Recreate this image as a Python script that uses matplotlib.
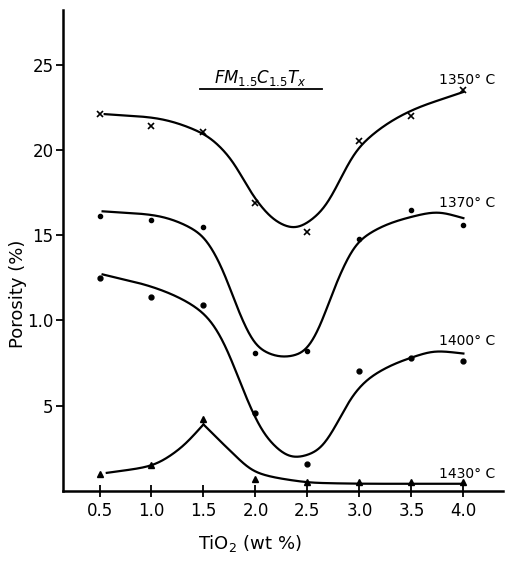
import numpy as np
import matplotlib
matplotlib.use("Agg")
import matplotlib.pyplot as plt

# measured points, TiO2 (wt %) vs porosity (%)
tio2 = np.array([0.5, 1.0, 1.5, 2.0, 2.5, 3.0, 3.5, 4.0])
p1350 = np.array([22.1, 21.4, 21.05, 16.9, 15.2, 20.5, 22.0, 23.5])
p1370 = np.array([16.1, 15.9, 15.5, 8.1, 8.2, 14.8, 16.5, 15.6])
p1400 = np.array([12.5, 11.35, 10.9, 4.6, 1.6, 7.05, 7.8, 7.6])
p1430 = np.array([1.0, 1.5, 4.2, 0.7, 0.5, 0.5, 0.5, 0.5])

# hand-drawn trend curves, knots
k1350_x = [0.55, 1.0, 1.5, 1.75, 2.0, 2.2, 2.37, 2.62, 3.0, 3.46, 4.0]
k1350_y = [22.1, 21.9, 20.95, 19.6, 17.1, 15.8, 15.4, 16.3, 20.2, 22.2, 23.4]
k1370_x = [0.53, 0.99, 1.47, 1.66, 1.86, 2.02, 2.27, 2.46, 2.62, 2.75, 3.0, 3.49, 3.75, 4.0]
k1370_y = [16.4, 16.2, 15.1, 13.35, 10.2, 8.4, 7.85, 8.1, 9.6, 11.8, 14.7, 16.06, 16.35, 16.0]
k1400_x = [0.53, 0.99, 1.31, 1.54, 1.69, 1.82, 1.95, 2.11, 2.37, 2.6, 2.79, 2.91, 3.1, 3.49, 3.75, 4.0]
k1400_y = [12.7, 12.0, 11.2, 10.2, 8.8, 6.9, 4.9, 3.1, 1.95, 2.35, 4.0, 5.4, 6.65, 7.8, 8.2, 8.06]
k1430a_x = [0.57, 0.99, 1.28, 1.5]
k1430a_y = [1.06, 1.47, 2.5, 3.9]
k1430b_x = [1.5, 1.75, 2.0, 2.27, 2.6, 3.2, 4.0]
k1430b_y = [3.9, 2.4, 1.1, 0.7, 0.47, 0.42, 0.42]

labels = ["1350° C", "1370° C", "1400° C", "1430° C"]
label_y = [24.1, 16.9, 8.8, 1.0]
xticks = [0.5, 1.0, 1.5, 2.0, 2.5, 3.0, 3.5, 4.0]
xticklabels = ["0.5", "1.0", "1.5", "2.0", "2.5", "3.0", "3.5", "4.0"]
yticks = [5, 10, 15, 20, 25]
yticklabels = ["5", "1.0", "15", "20", "25"]


def smooth(xk, yk, step=0.005, sigma=0.065):
    # pchip through the knots, then a light gaussian blur to hide the kinks
    xk = np.asarray(xk, float)
    yk = np.asarray(yk, float)
    h = np.diff(xk)
    d = np.diff(yk) / h
    m = np.zeros(len(xk))
    m[0], m[-1] = d[0], d[-1]
    for i in range(1, len(xk) - 1):
        if d[i - 1] * d[i] > 0:
            w1 = 2 * h[i] + h[i - 1]
            w2 = h[i] + 2 * h[i - 1]
            m[i] = (w1 + w2) / (w1 / d[i - 1] + w2 / d[i])
    x = np.arange(xk[0], xk[-1] + step / 2, step)
    i = np.clip(np.searchsorted(xk, x, side="right") - 1, 0, len(xk) - 2)
    t = (x - xk[i]) / h[i]
    y = ((2 * t**3 - 3 * t**2 + 1) * yk[i] + (t**3 - 2 * t**2 + t) * h[i] * m[i]
         + (-2 * t**3 + 3 * t**2) * yk[i + 1] + (t**3 - t**2) * h[i] * m[i + 1])
    r = int(3 * sigma / step)
    kern = np.exp(-0.5 * (np.arange(-r, r + 1) * step / sigma) ** 2)
    kern /= kern.sum()
    left = 2 * y[0] - y[r:0:-1]
    right = 2 * y[-1] - y[-2:-r - 2:-1]
    y = np.convolve(np.concatenate([left, y, right]), kern, mode="valid")
    return x, y


plt.rcParams['font.family'] = ['DejaVu Sans']
fig = plt.figure(figsize=(5.09, 5.63), dpi=100)
ax = fig.add_axes([0.124, 0.128, 0.864, 0.854])

lw = 1.6
for kx, ky in [(k1350_x, k1350_y), (k1370_x, k1370_y), (k1400_x, k1400_y),
               (k1430a_x, k1430a_y), (k1430b_x, k1430b_y)]:
    sx, sy = smooth(kx, ky)
    ax.plot(sx, sy, color="black", lw=lw)

ax.plot(tio2, p1350, "x", color="black", ms=4, mew=1.2)
ax.plot(tio2, p1370, "o", color="black", ms=3)
ax.plot(tio2, p1400, "o", color="black", ms=3.5)
ax.plot(tio2, p1430, "^", color="black", ms=4)

for lab, ly in zip(labels, label_y):
    ax.text(3.77, ly, lab, fontsize=10, ha="left", va="center")

ax.text(2.05, 24.2, r"$\mathit{FM_{1.5}C_{1.5}T_x}$", fontsize=12, ha="center", va="center")
ax.plot([1.47, 2.64], [23.6, 23.6], color="black", lw=1.3)

ax.set_xlim(0.15, 4.38)
ax.set_ylim(0, 28.2)
ax.spines["top"].set_visible(False)
ax.spines["right"].set_visible(False)
ax.spines["left"].set_linewidth(1.8)
ax.spines["bottom"].set_linewidth(1.8)
ax.set_xticks(xticks)
ax.set_xticklabels(xticklabels)
ax.set_yticks(yticks)
ax.set_yticklabels(yticklabels)
ax.tick_params(axis="x", direction="inout", length=8, width=1.3, labelsize=12, pad=4)
ax.tick_params(axis="y", direction="out", length=5, width=1.3, labelsize=12, pad=2)

ax.set_xlabel(r"TiO$_2$ (wt %)", fontsize=13)
ax.set_ylabel("Porosity (%)", fontsize=13)
ax.xaxis.set_label_coords(0.425, -0.087)
ax.yaxis.set_label_coords(-0.082, 0.41)

fig.savefig("out.png", dpi=100)
